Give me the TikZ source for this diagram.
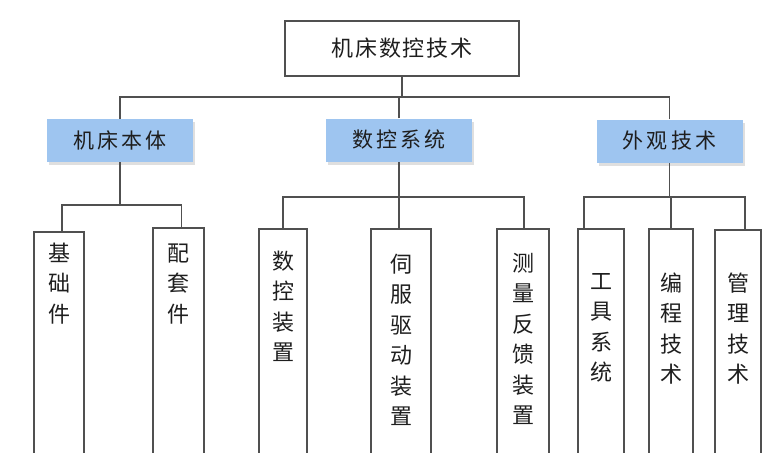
\documentclass[tikz,border=0pt]{standalone}
\usepackage{fontspec}
\setmainfont{Noto Sans CJK SC}
\newfontfamily\topfont[LetterSpace=8]{Noto Sans CJK SC}
\newfontfamily\midfont[LetterSpace=15]{Noto Sans CJK SC}
\usetikzlibrary{shadows}

\definecolor{linec}{RGB}{80,80,80}
\definecolor{bluec}{RGB}{158,197,240}
\definecolor{textc}{RGB}{30,30,30}

\tikzset{
    topbox/.style={draw=linec, line width=1.5pt, minimum width=234pt,
        minimum height=55pt, text=textc, font=\topfont\fontsize{22}{26}\selectfont},
    bluebox/.style={fill=bluec, minimum width=146pt, minimum height=43pt,
        text=textc, font=\midfont\fontsize{21}{25}\selectfont,
        drop shadow={shadow xshift=2pt, shadow yshift=-3pt, fill=black!25, opacity=0.5}},
    tallbox/.style={draw=linec, line width=1.5pt, anchor=north, inner ysep=0pt,
        text width=24pt, align=center, text depth=260pt, text=textc,
        font=\fontsize{22}{30.5}\selectfont},
    conn/.style={draw=linec, line width=1.5pt}
}

\begin{document}
\begin{tikzpicture}[x=1pt, y=-1pt]
    \useasboundingbox (0,0) rectangle (783,452);
    \clip (0,0) rectangle (783,452);

    % верх
    \node[topbox] (top) at (402,48.5) {机床数控技术};

    % второй уровень
    \node[bluebox] (bt) at (120,140.5) {机床本体};
    \node[bluebox] (xt) at (399,140) {数控系统};
    \node[bluebox] (wg) at (669.5,141) {外观技术};

    % шины
    \coordinate (bus0) at (0,97);
    \coordinate (bus1) at (0,205);
    \coordinate (bus2) at (0,197);

    % нижний уровень
    \node[tallbox, minimum width=50pt, text height=29.4pt] (jc) at (59,231) {基\\础\\件};
    \node[tallbox, minimum width=51pt, text height=33.4pt] (pt) at (178.5,227) {配\\套\\件};
    \node[tallbox, minimum width=48pt, text height=40.4pt] (sk) at (283,228) {数\\控\\装\\置};
    \node[tallbox, minimum width=60pt, text height=43.4pt] (sf) at (401,228) {伺\\服\\驱\\动\\装\\置};
    \node[tallbox, minimum width=52pt, text height=42.4pt] (cl) at (523,228) {测\\量\\反\\馈\\装\\置};
    \node[tallbox, minimum width=46pt, text height=60.4pt] (gj) at (601,228) {工\\具\\系\\统};
    \node[tallbox, minimum width=44pt, text height=62.4pt] (bc) at (671,228) {编\\程\\技\\术};
    \node[tallbox, minimum width=46pt, text height=61.4pt] (gl) at (738,229) {管\\理\\技\\术};

    % связи
    \draw[conn] (bt.north) |- (bus0 -| top.south) -- (top.south);
    \draw[conn] (xt.north) |- (bus0 -| top.south);
    \draw[conn] (wg.north) |- (bus0 -| top.south);

    \draw[conn] ([xshift=3pt]jc.north) |- (bus1 -| bt.south) -- (bt.south);
    \draw[conn] ([xshift=3pt]pt.north) |- (bus1 -| bt.south);

    \draw[conn] (sk.north) |- (bus2 -| xt.south) -- (xt.south);
    \draw[conn] ([xshift=-2pt]sf.north) |- (bus2 -| xt.south);
    \draw[conn] ([xshift=1pt]cl.north) |- (bus2 -| xt.south);

    \draw[conn] ([xshift=-17pt]gj.north) |- (bus2 -| wg.south) -- (wg.south);
    \draw[conn] (bc.north) |- (bus2 -| wg.south);
    \draw[conn] ([xshift=7pt]gl.north) |- (bus2 -| wg.south);
\end{tikzpicture}
\end{document}
